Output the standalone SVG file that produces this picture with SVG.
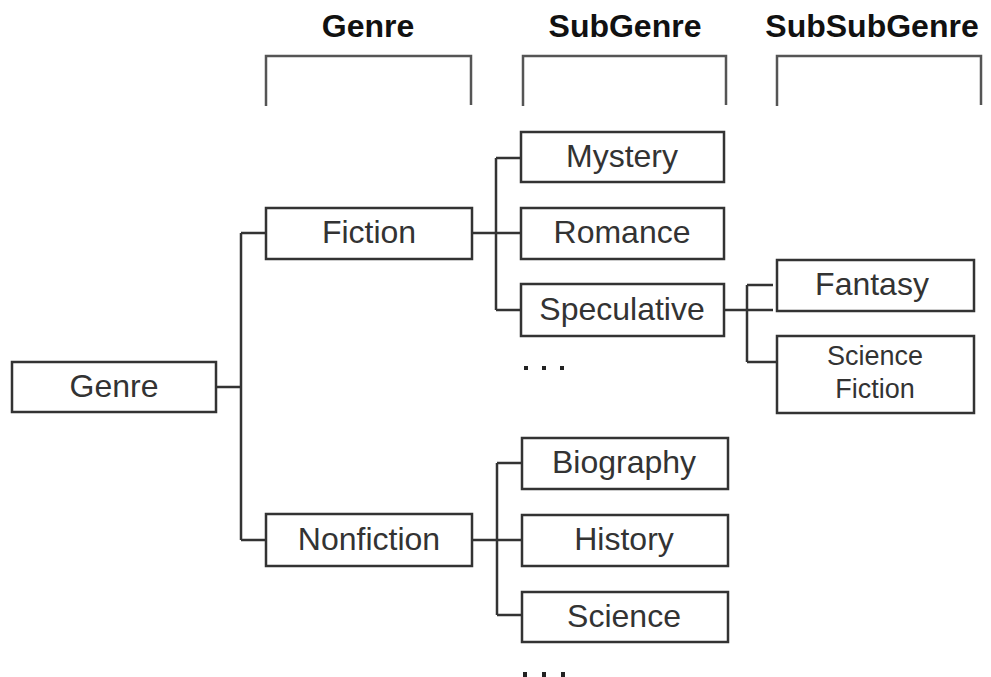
<svg xmlns="http://www.w3.org/2000/svg" width="991" height="677" viewBox="0 0 991 677">
<style>
.box{fill:#fff;stroke:#333;stroke-width:2.5}
.t{font-family:"Liberation Sans",Arial,sans-serif;font-size:32px;fill:#333;text-anchor:middle}
.ts{font-family:"Liberation Sans",Arial,sans-serif;font-size:27px;fill:#333;text-anchor:middle}
.h{font-family:"Liberation Sans",Arial,sans-serif;font-size:32px;font-weight:bold;fill:#111;text-anchor:middle}
.br{fill:none;stroke:#555;stroke-width:2.5}
.c{fill:none;stroke:#333;stroke-width:2.5}
.dot{fill:#222}
</style>
<rect width="991" height="677" fill="#fff"/>
<g id="headers">
<text class="h" x="368" y="37">Genre</text>
<text class="h" x="625" y="37">SubGenre</text>
<text class="h" x="872" y="37">SubSubGenre</text>
<path class="br" d="M266,106 V56 H471 V105"/>
<path class="br" d="M523,106 V56 H726 V105"/>
<path class="br" d="M777,106 V56 H981 V105"/>
</g>
<g id="connectors">
<path class="c" d="M216,387 H241 M241,233 V540 M241,233 H266 M241,540 H266"/>
<path class="c" d="M472,233 H521 M496,158 V310 M496,158 H521 M496,310 H521"/>
<path class="c" d="M724,310 H773 M747,285 V362 M747,285 H773 M747,362 H777"/>
<path class="c" d="M472,540 H522 M497,463 V615 M497,463 H522 M497,615 H522"/>
</g>
<g id="genre"><rect class="box" x="12" y="362" width="204" height="50"/><text class="t" x="114" y="397">Genre</text></g>
<g id="fiction"><rect class="box" x="266" y="208" width="206" height="51"/><text class="t" x="369" y="243">Fiction</text></g>
<g id="nonfiction"><rect class="box" x="266" y="514" width="206" height="52"/><text class="t" x="369" y="550">Nonfiction</text></g>
<g id="mystery"><rect class="box" x="521" y="132" width="203" height="50"/><text class="t" x="622" y="167">Mystery</text></g>
<g id="romance"><rect class="box" x="521" y="208" width="203" height="51"/><text class="t" x="622" y="243">Romance</text></g>
<g id="speculative"><rect class="box" x="521" y="284" width="203" height="52"/><text class="t" x="622" y="320">Speculative</text></g>
<g id="dots1"><rect class="dot" x="524" y="366" width="4" height="4"/><rect class="dot" x="542" y="366" width="4" height="4"/><rect class="dot" x="560" y="366" width="4" height="4"/></g>
<g id="fantasy"><rect class="box" x="777" y="260" width="197" height="51"/><text class="t" x="872" y="295">Fantasy</text></g>
<g id="scifi"><rect class="box" x="777" y="336" width="197" height="77"/><text class="ts" x="875" y="365">Science</text><text class="ts" x="875" y="398">Fiction</text></g>
<g id="biography"><rect class="box" x="522" y="438" width="206" height="51"/><text class="t" x="624" y="473">Biography</text></g>
<g id="history"><rect class="box" x="522" y="515" width="206" height="51"/><text class="t" x="624" y="550">History</text></g>
<g id="science"><rect class="box" x="522" y="592" width="206" height="50"/><text class="t" x="624" y="627">Science</text></g>
<g id="dots2"><rect class="dot" x="523" y="672" width="4" height="5"/><rect class="dot" x="542" y="672" width="4" height="5"/><rect class="dot" x="561" y="672" width="4" height="5"/></g>
</svg>
